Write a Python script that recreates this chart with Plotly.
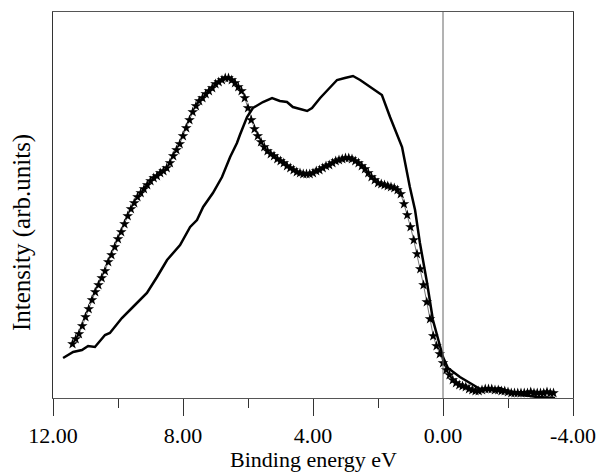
import plotly.graph_objects as go

# Solid curve (binding energy eV, intensity arb. units)
solid_e = [11.69, 11.38, 11.11, 10.92, 10.71, 10.40, 10.25, 9.88, 9.54, 9.11,
           8.80, 8.49, 8.09, 7.78, 7.57, 7.38, 7.08, 6.80, 6.55, 6.34,
           6.25, 6.03, 5.85, 5.54, 5.26, 5.02, 4.80, 4.62, 4.18, 4.03,
           3.78, 3.54, 3.26, 3.02, 2.77, 2.55, 2.25, 1.88, 1.63, 1.26,
           1.02, 0.86, 0.71, 0.49, 0.31, 0.00, -0.15, -0.52, -0.83, -1.14,
           -1.45, -1.75, -2.06, -2.46, -2.89, -3.45]
solid_i = [40, 46, 48, 52, 51, 63, 65, 80, 91, 105,
           121, 138, 153, 171, 178, 191, 205, 221, 241, 255,
           263, 281, 290, 296, 300, 297, 296, 291, 287, 290,
           300, 308, 318, 320, 322, 318, 311, 303, 281, 251,
           211, 188, 155, 115, 78, 41, 30, 21, 15, 9,
           8, 10, 6, 3, 1, 0]

# Star-marked curve
star_e = [11.4, 11.3, 11.2, 11.1, 11.0, 10.9, 10.8, 10.7, 10.6, 10.5,
          10.4, 10.3, 10.2, 10.1, 10.0, 9.9, 9.8, 9.7, 9.6, 9.5,
          9.4, 9.3, 9.2, 9.1, 9.0, 8.9, 8.8, 8.7, 8.6, 8.5,
          8.4, 8.3, 8.2, 8.1, 8.0, 7.9, 7.8, 7.7, 7.6, 7.5,
          7.4, 7.3, 7.2, 7.1, 7.0, 6.9, 6.8, 6.7, 6.6, 6.5,
          6.4, 6.3, 6.2, 6.1, 6.0, 5.9, 5.8, 5.7, 5.6, 5.5,
          5.4, 5.3, 5.2, 5.1, 5.0, 4.9, 4.8, 4.7, 4.6, 4.5,
          4.4, 4.3, 4.2, 4.1, 4.0, 3.9, 3.8, 3.7, 3.6, 3.5,
          3.4, 3.3, 3.2, 3.1, 3.0, 2.9, 2.8, 2.7, 2.6, 2.5,
          2.4, 2.3, 2.2, 2.1, 2.0, 1.9, 1.8, 1.7, 1.6, 1.5,
          1.4, 1.3, 1.2, 1.1, 1.0, 0.9, 0.8, 0.7, 0.6, 0.5,
          0.4, 0.3, 0.2, 0.1, 0.0, -0.1, -0.2, -0.3, -0.4, -0.5,
          -0.6, -0.7, -0.8, -0.9, -1.0, -1.1, -1.2, -1.3, -1.4, -1.5,
          -1.6, -1.7, -1.8, -1.9, -2.0, -2.1, -2.2, -2.3, -2.4, -2.5,
          -2.6, -2.7, -2.8, -2.9, -3.0, -3.1, -3.2, -3.3, -3.4]
star_i = [54, 59, 64, 72, 81, 89, 98, 106, 113, 120,
          127, 136, 143, 151, 159, 166, 174, 182, 189, 195,
          201, 205, 209, 213, 217, 220, 222, 225, 227, 230,
          235, 242, 248, 254, 262, 270, 278, 286, 292, 297,
          300, 304, 307, 310, 314, 316, 318, 320, 320, 318,
          315, 311, 307, 300, 290, 278, 269, 262, 256, 251,
          247, 244, 242, 239, 237, 235, 232, 230, 228, 226,
          225, 224, 224, 224, 225, 227, 228, 230, 232, 233,
          235, 237, 238, 239, 240, 240, 239, 237, 235, 232,
          229, 225, 221, 218, 215, 214, 213, 212, 211, 210,
          208, 204, 194, 183, 171, 158, 144, 129, 113, 96,
          79, 62, 52, 44, 35, 28, 23, 18, 15, 13,
          12, 11, 9, 8, 7, 7, 8, 9, 9, 9,
          8, 8, 7, 7, 6, 5, 5, 5, 5, 5,
          5, 6, 5, 5, 5, 5, 6, 5, 5]

tick_vals = [12, 8, 4, 0, -4]
tick_text = ["12.00", "8.00", "4.00", "0.00", "-4.00"]
minor_vals = [10, 6, 2, -2]

x_title = "Binding energy eV"
y_title = "Intensity (arb.units)"

font_family = "Liberation Serif"

fig = go.Figure()
fig.add_trace(go.Scatter(
    x=star_e, y=star_i, mode="lines+markers",
    line=dict(color="#777777", width=1),
    marker=dict(symbol="star", size=8, color="black",
                line=dict(width=0)),
    showlegend=False))
fig.add_trace(go.Scatter(
    x=solid_e, y=solid_i, mode="lines",
    line=dict(color="black", width=2.5),
    showlegend=False))

fig.add_shape(type="line", xref="x", yref="paper", x0=0, x1=0, y0=0, y1=1,
              line=dict(color="#666666", width=1))

# y-axis title placed as a rotated annotation (slightly below plot centre)
fig.add_annotation(text=y_title, textangle=-90, showarrow=False,
                   xref="paper", yref="paper",
                   x=(22 - 53) / 520, y=(398 - 233) / 386,
                   xanchor="center", yanchor="middle",
                   font=dict(family=font_family, size=25, color="black"))
# x-axis title
fig.add_annotation(text=x_title, showarrow=False,
                   xref="paper", yref="paper",
                   x=0.5, y=(398 - 459) / 386,
                   xanchor="center", yanchor="middle",
                   font=dict(family=font_family, size=22, color="black"))

fig.update_layout(
    width=598, height=474,
    margin=dict(l=53, r=25, t=12, b=76),
    paper_bgcolor="white", plot_bgcolor="white",
    font=dict(family=font_family, color="black", size=22),
    xaxis=dict(
        range=[12, -4], showgrid=False, zeroline=False, automargin=False,
        showline=True, linecolor="#555555", linewidth=1, mirror=True,
        tickmode="array", tickvals=tick_vals, ticktext=tick_text,
        ticks="outside", ticklen=17, tickwidth=1, tickcolor="#333333",
        ticklabelstandoff=1,
        tickfont=dict(family=font_family, size=22),
        minor=dict(tickmode="array", tickvals=minor_vals, ticks="outside",
                   ticklen=9, tickwidth=1, tickcolor="#333333"),
    ),
    yaxis=dict(
        range=[0, 386], showgrid=False, zeroline=False, automargin=False,
        showline=True, linecolor="#333333", linewidth=1, mirror=True,
        showticklabels=False, ticks="",
    ),
)

fig.write_html("out.html")
